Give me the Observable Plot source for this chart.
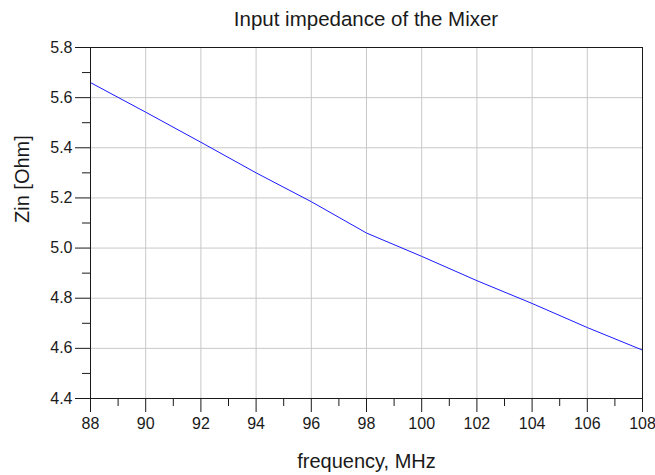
<!DOCTYPE html>
<html>
<head>
<meta charset="utf-8">
<script src="https://cdn.jsdelivr.net/npm/d3@7"></script>
<script src="https://cdn.jsdelivr.net/npm/@observablehq/plot@0.6"></script>
<style>
  html, body { margin: 0; padding: 0; background: #fff; }
  #title {
    font-family: "Liberation Sans", Arial, sans-serif;
    font-size: 20.5px;
    line-height: 22px;
    height: 22px;
    padding-top: 8px;
    padding-bottom: 4px;
    margin-left: 90px;
    width: 552px;
    text-align: center;
    color: #1a1a1a;
  }
  svg { display: block; }
</style>
</head>
<body>
<div id="title">Input impedance of the Mixer</div>
<div id="chart"></div>
<script>
// Input impedance of the mixer across the FM band
const freqMHz = [88, 90, 92, 94, 96, 98, 100, 102, 104, 106, 108];
const zinOhm = [5.660, 5.542, 5.422, 5.300, 5.185, 5.060, 4.967, 4.870, 4.779, 4.683, 4.593];

const xMajor = [88, 90, 92, 94, 96, 98, 100, 102, 104, 106, 108];
const xMinor = [89, 91, 93, 95, 97, 99, 101, 103, 105, 107];
const yMajor = [4.4, 4.6, 4.8, 5.0, 5.2, 5.4, 5.6, 5.8];
const yMinor = [4.5, 4.7, 4.9, 5.1, 5.3, 5.5, 5.7];

const rows = freqMHz.map((f, i) => ({f, z: zinOhm[i]}));
const ink = "#1a1a1a";

const chart = Plot.plot({
  width: 655,
  height: 441,
  marginLeft: 90,
  marginRight: 13,
  marginTop: 13,
  marginBottom: 77,
  x: {domain: [88, 108]},
  y: {domain: [4.4, 5.8]},
  style: {
    fontFamily: "'Liberation Sans', Arial, sans-serif",
    fontSize: "16px",
    color: ink,
    background: "white"
  },
  marks: [
    Plot.gridX(xMajor, {stroke: "#c8c8c8", strokeOpacity: 1}),
    Plot.gridY(yMajor, {stroke: "#c8c8c8", strokeOpacity: 1}),
    Plot.line(rows, {x: "f", y: "z", stroke: "#1a1aff", strokeWidth: 1}),
    Plot.frame({stroke: ink}),
    Plot.axisX(xMajor, {tickSize: 14, tickPadding: 5, label: null, stroke: ink, fontSize: 16}),
    Plot.axisX(xMinor, {tickSize: 8, tickFormat: () => "", label: null, stroke: ink}),
    Plot.axisY(yMajor, {tickSize: 15, tickPadding: 3, tickFormat: d3.format(".1f"), label: null, stroke: ink, fontSize: 16}),
    Plot.axisY(yMinor, {tickSize: 8, tickFormat: () => "", label: null, stroke: ink}),
    Plot.text(["frequency, MHz"], {frameAnchor: "bottom", dy: 69, lineAnchor: "bottom", fontSize: 20, fill: ink}),
    Plot.text(["Zin [Ohm]"], {frameAnchor: "left", rotate: -90, dx: -67.5, fontSize: 20, fill: ink})
  ]
});

document.getElementById("chart").appendChild(chart);
</script>
</body>
</html>
